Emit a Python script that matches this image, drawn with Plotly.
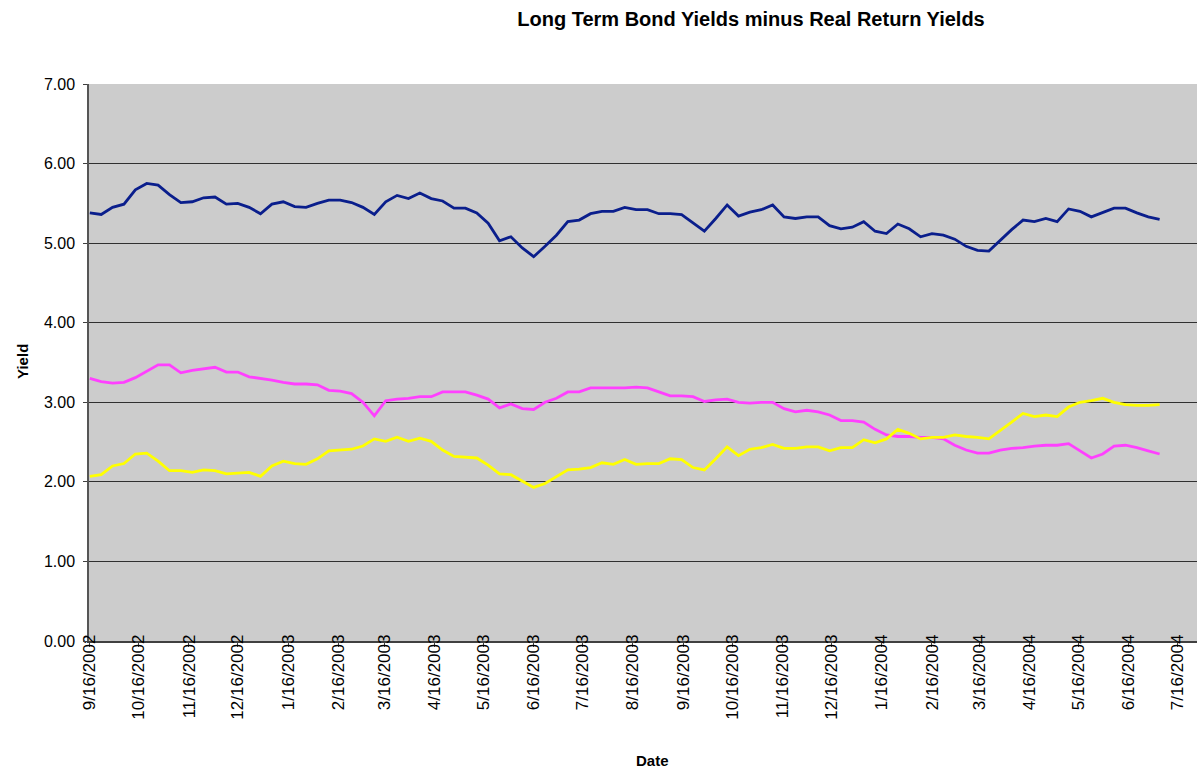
import datetime as dt
import plotly.graph_objects as go

# ---- data (weekly observations starting 9/16/2002) ----
start_date = "2002-09-16"
n_weeks = 95

long_bond_yield = [
    5.38, 5.36, 5.45, 5.49, 5.67, 5.75, 5.73, 5.61, 5.51, 5.52,
    5.57, 5.58, 5.49, 5.50, 5.45, 5.37, 5.49, 5.52, 5.46, 5.45,
    5.50, 5.54, 5.54, 5.51, 5.45, 5.36, 5.52, 5.60, 5.56, 5.63,
    5.56, 5.53, 5.44, 5.44, 5.38, 5.25, 5.03, 5.08, 4.94, 4.83,
    4.96, 5.10, 5.27, 5.29, 5.37, 5.40, 5.40, 5.45, 5.42, 5.42,
    5.37, 5.37, 5.36, 5.25, 5.15, 5.31, 5.48, 5.34, 5.39, 5.42,
    5.48, 5.33, 5.31, 5.33, 5.33, 5.22, 5.18, 5.20, 5.27, 5.15,
    5.12, 5.24, 5.18, 5.08, 5.12, 5.10, 5.05, 4.96, 4.91, 4.90,
    5.04, 5.17, 5.29, 5.27, 5.31, 5.27, 5.43, 5.40, 5.33, 5.39,
    5.44, 5.44, 5.38, 5.33, 5.30,
]

real_return_yield = [
    3.30, 3.26, 3.24, 3.25, 3.31, 3.39, 3.47, 3.47, 3.37, 3.40,
    3.42, 3.44, 3.38, 3.38, 3.32, 3.30, 3.28, 3.25, 3.23, 3.23,
    3.22, 3.15, 3.14, 3.11, 3.00, 2.83, 3.02, 3.04, 3.05, 3.07,
    3.07, 3.13, 3.13, 3.13, 3.09, 3.04, 2.93, 2.98, 2.92, 2.91,
    3.00, 3.05, 3.13, 3.13, 3.18, 3.18, 3.18, 3.18, 3.19, 3.18,
    3.13, 3.08, 3.08, 3.07, 3.01, 3.03, 3.04, 3.00, 2.99, 3.00,
    3.00, 2.92, 2.88, 2.90, 2.88, 2.84, 2.77, 2.77, 2.75, 2.66,
    2.59, 2.57, 2.57, 2.56, 2.56, 2.54, 2.46, 2.40, 2.36, 2.36,
    2.40, 2.42, 2.43, 2.45, 2.46, 2.46, 2.48, 2.39, 2.30, 2.35,
    2.45, 2.46, 2.43, 2.39, 2.35,
]

yield_spread = [
    2.07, 2.09, 2.20, 2.23, 2.35, 2.36, 2.26, 2.14, 2.14, 2.12,
    2.15, 2.14, 2.10, 2.11, 2.12, 2.07, 2.20, 2.26, 2.23, 2.22,
    2.29, 2.39, 2.40, 2.41, 2.45, 2.54, 2.51, 2.56, 2.51, 2.55,
    2.51, 2.40, 2.32, 2.31, 2.30, 2.21, 2.10, 2.09, 2.01, 1.93,
    1.98, 2.06, 2.15, 2.16, 2.18, 2.24, 2.22, 2.28, 2.22, 2.23,
    2.23, 2.29, 2.28, 2.18, 2.15, 2.29, 2.44, 2.33, 2.41, 2.43,
    2.47, 2.42, 2.42, 2.44, 2.44, 2.39, 2.43, 2.43, 2.53, 2.49,
    2.54, 2.66, 2.61, 2.54, 2.56, 2.56, 2.59, 2.57, 2.56, 2.54,
    2.64, 2.75, 2.86, 2.82, 2.84, 2.82, 2.94, 3.00, 3.02, 3.05,
    3.00, 2.97, 2.96, 2.96, 2.97,
]

tick_dates = [
    "2002-09-16", "2002-10-16", "2002-11-16", "2002-12-16",
    "2003-01-16", "2003-02-16", "2003-03-16", "2003-04-16",
    "2003-05-16", "2003-06-16", "2003-07-16", "2003-08-16",
    "2003-09-16", "2003-10-16", "2003-11-16", "2003-12-16",
    "2004-01-16", "2004-02-16", "2004-03-16", "2004-04-16",
    "2004-05-16", "2004-06-16", "2004-07-16",
]
tick_labels = [
    "9/16/2002", "10/16/2002", "11/16/2002", "12/16/2002",
    "1/16/2003", "2/16/2003", "3/16/2003", "4/16/2003",
    "5/16/2003", "6/16/2003", "7/16/2003", "8/16/2003",
    "9/16/2003", "10/16/2003", "11/16/2003", "12/16/2003",
    "1/16/2004", "2/16/2004", "3/16/2004", "4/16/2004",
    "5/16/2004", "6/16/2004", "7/16/2004",
]

y_ticks = [0, 1, 2, 3, 4, 5, 6, 7]

# ---- build dates ----
d0 = dt.date.fromisoformat(start_date)
dates = [d0 + dt.timedelta(days=7 * i) for i in range(n_weeks)]

fig = go.Figure()
fig.add_trace(go.Scatter(x=dates, y=long_bond_yield, mode="lines",
                         name="Long Term Bond Yield",
                         line=dict(color="#0A1E8C", width=2.8)))
fig.add_trace(go.Scatter(x=dates, y=real_return_yield, mode="lines",
                         name="Real Return Bond Yield",
                         line=dict(color="#FF40FF", width=2.8)))
fig.add_trace(go.Scatter(x=dates, y=yield_spread, mode="lines",
                         name="Difference",
                         line=dict(color="#FFFF00", width=2.8)))

W, H = 1199, 771
L, R, T, B = 89, 2, 84, 130
pw, ph = W - L - R, H - T - B

fig.update_layout(
    width=W, height=H,
    margin=dict(l=L, r=R, t=T, b=B, autoexpand=False),
    paper_bgcolor="white",
    plot_bgcolor="#CCCCCC",
    showlegend=False,
    font=dict(family="Arial, Liberation Sans, sans-serif", color="black"),
    title=dict(text="<b>Long Term Bond Yields minus Real Return Yields</b>",
               x=751 / W, xanchor="center", y=1 - 19 / H, yanchor="middle",
               font=dict(size=20, color="black")),
    annotations=[
        dict(text="<b>Date</b>", xref="paper", yref="paper",
             x=(652 - L) / pw, y=(641 - 760) / ph,
             xanchor="center", yanchor="middle", showarrow=False,
             font=dict(size=15, color="black")),
        dict(text="<b>Yield</b>", xref="paper", yref="paper",
             x=(22 - L) / pw, y=(641 - 362) / ph, textangle=-90,
             xanchor="center", yanchor="middle", showarrow=False,
             font=dict(size=15, color="black")),
    ],
)

fig.update_xaxes(
    type="date",
    range=["2002-09-15 12:00", "2004-07-28"],
    tickmode="array",
    tickvals=tick_dates,
    ticktext=tick_labels,
    tickangle=-90,
    tickfont=dict(size=17),
    ticks="outside", ticklen=4, tickcolor="#404040",
    ticklabelstandoff=-19,
    showgrid=False,
    showline=True, linecolor="#404040", linewidth=1.5,
    zeroline=False,
    automargin=False,
)

fig.update_yaxes(
    range=[0, 7],
    tickmode="array",
    tickvals=y_ticks,
    tickformat=".2f",
    tickfont=dict(size=16),
    ticks="outside", ticklen=4, tickcolor="#404040",
    ticklabelstandoff=5,
    showgrid=True, gridcolor="#303030", gridwidth=1,
    showline=True, linecolor="#555555", linewidth=1.5,
    zeroline=False,
    automargin=False,
)

fig.write_html("out.html", config={"displayModeBar": False},
               post_script="document.body.style.margin='0px';")
